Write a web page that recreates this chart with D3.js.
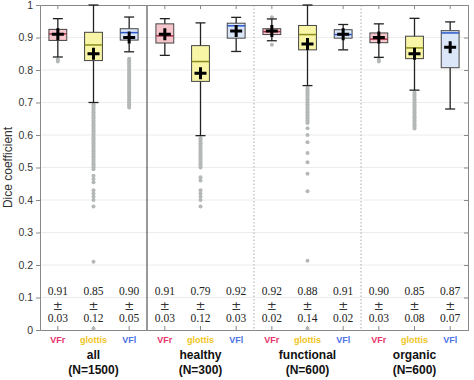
<!DOCTYPE html>
<html>

<head>
    <meta charset='utf-8'>
    <title>Dice boxplot</title>
    <script type='text/javascript' src='https://cdn.jsdelivr.net/npm/d3@7'></script>
    <style>
        body { margin: 0; background: #fff; }
    </style>
</head>

<body>
    <svg width='474' height='380'></svg>
    <script type='text/javascript'>

        // data
        const groups = ['all', 'healthy', 'functional', 'organic']
        const groupN = [1500, 300, 600, 600]
        const classes = ['VFr', 'glottis', 'VFl']
        const classColors = ['#e8336e', '#f0c41c', '#4d73e6']
        const boxFills = ['#f6c6cc', '#f8f6a6', '#dbe7f8']
        const medianColors = ['#a03048', '#8c8c1c', '#2a58c8']

        const whiskerHi = [0.958, 1.0, 0.963, 0.958, 0.945, 0.962, 0.957, 1.0, 0.94, 0.942, 0.959, 0.948]
        const q3 = [0.925, 0.916, 0.927, 0.942, 0.875, 0.944, 0.927, 0.937, 0.924, 0.914, 0.904, 0.921]
        const medians = [0.911, 0.877, 0.915, 0.905, 0.826, 0.936, 0.918, 0.909, 0.909, 0.895, 0.868, 0.914]
        const q1 = [0.891, 0.829, 0.892, 0.883, 0.765, 0.898, 0.909, 0.862, 0.898, 0.884, 0.835, 0.807]
        const whiskerLo = [0.84, 0.70, 0.856, 0.845, 0.598, 0.857, 0.89, 0.752, 0.862, 0.839, 0.738, 0.68]
        const means = [0.91, 0.85, 0.90, 0.91, 0.79, 0.92, 0.92, 0.88, 0.91, 0.90, 0.85, 0.87]
        const sds = [0.03, 0.12, 0.05, 0.03, 0.12, 0.03, 0.02, 0.14, 0.02, 0.03, 0.08, 0.07]
        const outliers = [
            [0.832, 0.826],
            [0.695, 0.69, 0.685, 0.68, 0.675, 0.67, 0.665, 0.66, 0.655, 0.65, 0.645, 0.64, 0.635, 0.63, 0.625, 0.62,
             0.615, 0.61, 0.605, 0.60, 0.595, 0.59, 0.585, 0.58, 0.575, 0.57, 0.565, 0.56, 0.555, 0.55, 0.545, 0.54,
             0.535, 0.53, 0.525, 0.52, 0.515, 0.51, 0.505, 0.50, 0.495,
             0.475, 0.465, 0.455, 0.43, 0.42, 0.41, 0.40, 0.38, 0.21, 0.005],
            [0.835, 0.83, 0.825, 0.82, 0.815, 0.81, 0.805, 0.80, 0.795, 0.79, 0.785, 0.78, 0.775, 0.77, 0.765, 0.76,
             0.755, 0.75, 0.745, 0.74, 0.735, 0.73, 0.725, 0.72, 0.715, 0.71, 0.705, 0.70, 0.695, 0.69, 0.685],
            [],
            [0.59, 0.585, 0.58, 0.575, 0.57, 0.565, 0.56, 0.555, 0.55, 0.545, 0.54, 0.535, 0.53, 0.525, 0.52, 0.515,
             0.51, 0.505, 0.50, 0.47, 0.46, 0.43, 0.42, 0.41, 0.40, 0.38],
            [],
            [0.962, 0.878],
            [0.745, 0.74, 0.735, 0.73, 0.725, 0.72, 0.715, 0.71, 0.705, 0.70, 0.695, 0.69, 0.685, 0.68, 0.675, 0.67,
             0.665, 0.66, 0.655, 0.65, 0.645, 0.64, 0.637,
             0.621, 0.60, 0.578, 0.545, 0.516, 0.481, 0.427, 0.213, 0.005],
            [],
            [0.832, 0.826],
            [0.73, 0.725, 0.72, 0.715, 0.71, 0.705, 0.70, 0.695, 0.69, 0.685, 0.68, 0.675, 0.67, 0.665, 0.66, 0.655,
             0.65, 0.645, 0.64, 0.635, 0.63, 0.625, 0.62],
            []
        ]
        const yTicks = [0, 0.1, 0.2, 0.3, 0.4, 0.5, 0.6, 0.7, 0.8, 0.9, 1]

        const svg = d3.select('svg')
        const margin = { top: 5, left: 40, bottom: 50, right: 6 }
        const width = 474, height = 380
        const innerW = width - margin.left - margin.right
        const innerH = height - margin.top - margin.bottom

        const boxes = d3.range(groups.length * classes.length).map(i => ({
            i: i, g: Math.floor(i / 3), c: i % 3,
            lo: whiskerLo[i], q1: q1[i], med: medians[i], q3: q3[i], hi: whiskerHi[i],
            mean: means[i], sd: sds[i], out: outliers[i]
        }))

        const x = d3.scaleBand().domain(d3.range(boxes.length)).range([margin.left, margin.left + innerW])
        const y = d3.scaleLinear().domain([0, 1]).range([margin.top + innerH, margin.top])
        const gx = d3.scaleBand().domain(groups).range([margin.left, margin.left + innerW])
        const cx = i => x(i) + x.bandwidth() / 2
        const bw = x.bandwidth() * 0.5

        // grid
        svg.append('g').selectAll('line').data(yTicks.slice(1, -1)).enter().append('line')
            .attr('x1', margin.left).attr('x2', margin.left + innerW)
            .attr('y1', d => y(d)).attr('y2', d => y(d))
            .attr('stroke', '#ececec').attr('stroke-width', 1)

        // group separators
        svg.append('g').selectAll('line').data(groups.slice(1)).enter().append('line')
            .attr('x1', d => gx(d)).attr('x2', d => gx(d))
            .attr('y1', margin.top).attr('y2', margin.top + innerH)
            .attr('stroke', (d, i) => i === 0 ? '#555' : '#aaa')
            .attr('stroke-width', (d, i) => i === 0 ? 1.2 : 1)
            .attr('stroke-dasharray', (d, i) => i === 0 ? null : '1.5,2')

        // axes
        const yAxis = d3.axisLeft(y).tickValues(yTicks).tickFormat(d3.format('~g')).tickSize(4)
        svg.append('g').attr('transform', `translate(${margin.left},0)`).call(yAxis)
            .call(g => g.selectAll('text').attr('font-family', 'Liberation Sans, Arial').attr('font-size', 10.5).attr('fill', '#333'))
        svg.append('g').attr('transform', `translate(${margin.left + innerW},0)`)
            .call(d3.axisRight(y).tickValues(yTicks).tickFormat('').tickSize(-4))
        svg.append('g').attr('transform', `translate(0,${margin.top + innerH})`)
            .call(d3.axisBottom(x).tickFormat('').tickSize(-4).tickSizeOuter(0))
        svg.append('g').attr('transform', `translate(0,${margin.top})`)
            .call(d3.axisTop(x).tickFormat('').tickSize(-4).tickSizeOuter(0))
        svg.selectAll('.domain').attr('stroke', '#888')
        svg.selectAll('.tick line').attr('stroke', '#888')

        svg.append('text')
            .attr('transform', `translate(12,${margin.top + innerH / 2}) rotate(-90)`)
            .attr('text-anchor', 'middle')
            .attr('font-family', 'Liberation Sans, Arial').attr('font-size', 12).attr('fill', '#333')
            .text('Dice coefficient')

        // boxes
        const bg = svg.append('g').selectAll('g').data(boxes).enter().append('g')

        bg.each(function (d) {
            const g = d3.select(this)
            g.selectAll('circle').data(d.out).enter().append('circle')
                .attr('cx', cx(d.i)).attr('cy', v => y(v)).attr('r', 2)
                .attr('fill', '#b4b8b6')
        })

        bg.append('line')
            .attr('x1', d => cx(d.i)).attr('x2', d => cx(d.i))
            .attr('y1', d => y(d.hi)).attr('y2', d => y(d.lo))
            .attr('stroke', '#222').attr('stroke-width', 1.3)
        bg.selectAll('.cap').data(d => [d, d]).enter().append('line')
            .attr('x1', (d, k) => cx(d.i) - 5).attr('x2', (d, k) => cx(d.i) + 5)
            .attr('y1', (d, k) => y(k ? d.lo : d.hi)).attr('y2', (d, k) => y(k ? d.lo : d.hi))
            .attr('stroke', '#222').attr('stroke-width', 1.3)
        bg.append('rect')
            .attr('x', d => cx(d.i) - bw / 2).attr('width', bw)
            .attr('y', d => y(d.q3)).attr('height', d => y(d.q1) - y(d.q3))
            .attr('fill', d => boxFills[d.c]).attr('stroke', '#444').attr('stroke-width', 1)
        bg.append('line')
            .attr('x1', d => cx(d.i) - bw / 2).attr('x2', d => cx(d.i) + bw / 2)
            .attr('y1', d => y(d.med)).attr('y2', d => y(d.med))
            .attr('stroke', d => medianColors[d.c]).attr('stroke-width', 1.5)
        // mean markers
        bg.append('path')
            .attr('d', d => `M${cx(d.i) - 6},${y(d.mean)}H${cx(d.i) + 6}M${cx(d.i)},${y(d.mean) - 6}V${y(d.mean) + 6}`)
            .attr('stroke', '#000').attr('stroke-width', 3)

        // mean ± sd text
        const tg = svg.append('g').attr('font-family', 'Liberation Serif, Times New Roman, serif')
            .attr('font-size', 11.5).attr('fill', '#222').attr('text-anchor', 'middle')
        tg.selectAll('.m').data(boxes).enter().append('text')
            .attr('x', d => cx(d.i)).attr('y', 295).text(d => d.mean.toFixed(2))
        tg.selectAll('.pm').data(boxes).enter().append('text')
            .attr('x', d => cx(d.i)).attr('y', 310)
            .attr('font-family', 'DejaVu Sans').attr('font-size', 12).attr('fill', '#333').text('±')
        tg.selectAll('.s').data(boxes).enter().append('text')
            .attr('x', d => cx(d.i)).attr('y', 322).text(d => d.sd.toFixed(2))

        // class labels
        svg.append('g').selectAll('text').data(boxes).enter().append('text')
            .attr('x', d => cx(d.i)).attr('y', 343)
            .attr('text-anchor', 'middle')
            .attr('font-family', 'Liberation Sans, Arial').attr('font-weight', 'bold').attr('font-size', 9)
            .attr('fill', d => classColors[d.c])
            .text(d => classes[d.c])

        // group labels
        const gl = svg.append('g').selectAll('g').data(groups).enter().append('g')
            .attr('font-family', 'Liberation Sans, Arial').attr('font-weight', 'bold').attr('font-size', 12)
            .attr('fill', '#111').attr('text-anchor', 'middle')
        gl.append('text').attr('x', d => gx(d) + gx.bandwidth() / 2).attr('y', 359).text(d => d)
        gl.append('text').attr('x', d => gx(d) + gx.bandwidth() / 2).attr('y', 374).text((d, i) => `(N=${groupN[i]})`)
    </script>
</body>

</html>
